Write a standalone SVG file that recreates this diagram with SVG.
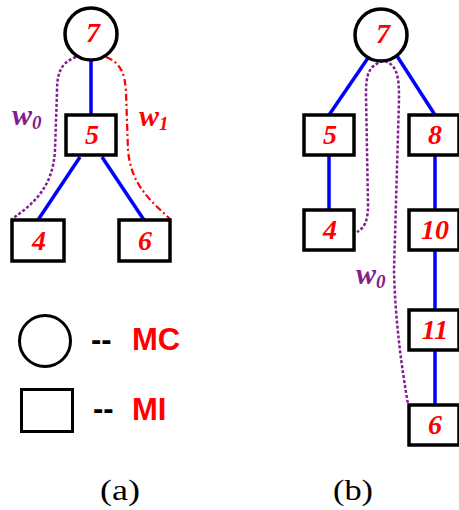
<svg xmlns="http://www.w3.org/2000/svg" width="459" height="510" viewBox="0 0 459 510">
<style>
.nd{fill:#fff;stroke:#000;stroke-width:3.5}
.num{font-family:"Liberation Serif",serif;font-weight:bold;font-style:italic;font-size:28px;fill:#ff0000;text-anchor:middle}
.edge{stroke:#0000ff;stroke-width:3.5;fill:none}
.w0{stroke:#80208f;stroke-width:2.5;stroke-dasharray:3,2;fill:none}
.w1{stroke:#ff0000;stroke-width:2.2;stroke-dasharray:7,3,2,3;fill:none}
.wl{font-family:"Liberation Serif",serif;font-weight:bold;font-style:italic;font-size:30px}
.leg{font-family:"Liberation Sans",Arial,sans-serif;font-weight:bold;font-size:31px}
.cap{font-family:"Liberation Serif",serif;font-size:30px;fill:#000}
</style>
<g id="connectors">
<line class="edge" x1="91" y1="60" x2="91" y2="115"/>
<line class="edge" x1="80" y1="157" x2="38" y2="220"/>
<line class="edge" x1="102" y1="157" x2="144" y2="220"/>
<path class="w0" d="M76,57 C60,63 57,74 57,92 L55,150 C53,190 30,206 12,219"/>
<path class="w1" d="M106,57 C121,63 125,74 126,92 L128,150 C131,185 150,200 170,219"/>
<line class="edge" x1="368" y1="58" x2="329" y2="115"/>
<line class="edge" x1="397" y1="56" x2="435" y2="115"/>
<line class="edge" x1="329" y1="155" x2="329" y2="210"/>
<line class="edge" x1="435" y1="155" x2="435" y2="210"/>
<line class="edge" x1="435" y1="250" x2="435" y2="310"/>
<line class="edge" x1="435" y1="350" x2="435" y2="405"/>
<path class="w0" d="M383,61 C368,66 366,75 366,95 L368,205 C368,222 364,228 357,232"/>
<path class="w0" d="M385,61 C398,66 399,78 399,100 L394,270 C395,320 402,370 408,404"/>
</g>
<g id="a7"><circle class="nd" cx="91" cy="34" r="26" stroke-width="3"/><text class="num" x="93" y="42">7</text></g>
<g id="a5"><rect class="nd" x="66" y="115" width="50" height="40"/><text class="num" x="92" y="144">5</text></g>
<g id="a4"><rect class="nd" x="12" y="220" width="52" height="41"/><text class="num" x="39" y="250">4</text></g>
<g id="a6"><rect class="nd" x="119" y="220" width="51" height="41"/><text class="num" x="145" y="250">6</text></g>
<text class="wl" x="12" y="125" fill="#80208f">w<tspan font-size="19" dy="4">0</tspan></text>
<text class="wl" x="139" y="126" fill="#ff0000">w<tspan font-size="19" dy="4">1</tspan></text>
<g id="legend">
<circle cx="45" cy="341" r="25.5" fill="none" stroke="#000" stroke-width="3"/>
<text class="leg" x="91" y="350" fill="#000">--</text>
<text class="leg" x="132" y="350" fill="#ff0000">MC</text>
<rect x="21.5" y="389.5" width="51" height="42" fill="none" stroke="#000" stroke-width="3"/>
<text class="leg" x="93" y="419" fill="#000">--</text>
<text class="leg" x="132" y="420" fill="#ff0000">MI</text>
</g>
<text class="cap" x="100" y="500" textLength="40" lengthAdjust="spacingAndGlyphs">(a)</text>
<g id="b7"><circle class="nd" cx="381" cy="35" r="26" stroke-width="3"/><text class="num" x="383" y="43">7</text></g>
<g id="b5"><rect class="nd" x="304" y="115" width="50" height="40"/><text class="num" x="330" y="144">5</text></g>
<g id="b8"><rect class="nd" x="409" y="115" width="50" height="40"/><text class="num" x="435" y="144">8</text></g>
<g id="b4"><rect class="nd" x="304" y="210" width="50" height="40"/><text class="num" x="330" y="239">4</text></g>
<g id="b10"><rect class="nd" x="409" y="210" width="50" height="40"/><text class="num" x="435" y="239">10</text></g>
<g id="b11"><rect class="nd" x="409" y="310" width="50" height="40"/><text class="num" x="435" y="339">11</text></g>
<g id="b6"><rect class="nd" x="409" y="405" width="50" height="40"/><text class="num" x="435" y="434">6</text></g>
<text class="wl" x="356" y="284" fill="#80208f">w<tspan font-size="19" dy="4">0</tspan></text>
<text class="cap" x="333" y="500" textLength="40" lengthAdjust="spacingAndGlyphs">(b)</text>
</svg>
